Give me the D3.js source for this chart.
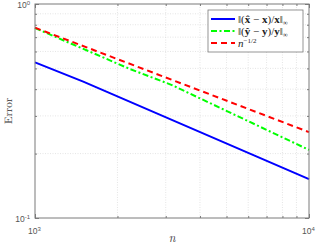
<!DOCTYPE html>
<html>
<head>
<meta charset="utf-8">
<script src="https://cdn.jsdelivr.net/npm/d3@7"></script>
<style>
  body { margin: 0; background: #fff; }
  svg { display: block; }
</style>
</head>
<body>
<div id="chart"></div>
<script>
/* Relative error vs n, log-log, MATLAB style */

const blueN   = [1000, 1500, 10000];
const blueErr = [0.534, 0.434, 0.152];
const greenN   = [1000, 2220, 3160, 10000];
const greenErr = [0.772, 0.497, 0.418, 0.208];
const redN   = [1000, 10000];
const redErr = [0.775, 0.252];

const xMajor = [1000, 10000];
const yMajor = [0.1, 1];
const xMinor = [2000, 3000, 4000, 5000, 6000, 7000, 8000, 9000];
const yMinor = [0.2, 0.3, 0.4, 0.5, 0.6, 0.7, 0.8, 0.9];

const width = 316, height = 246;
const margin = {top: 4, right: 7, bottom: 28, left: 35};

const svg = d3.select("#chart").append("svg")
    .attr("width", width).attr("height", height);

const x = d3.scaleLog()
    .domain([1000, 10000])
    .range([margin.left, width - margin.right]);
const y = d3.scaleLog()
    .domain([0.1, 1])
    .range([height - margin.bottom, margin.top]);

const axisCol = "#7a7a7a";
const textCol = "#555";

// grid
const grid = svg.append("g").attr("stroke", "#d4d4d4").attr("stroke-width", 0.6)
    .attr("stroke-dasharray", "1,1.5");
grid.selectAll(".gx").data(xMinor).join("line")
    .attr("x1", d => x(d)).attr("x2", d => x(d))
    .attr("y1", y(0.1)).attr("y2", y(1));
grid.selectAll(".gy").data(yMinor).join("line")
    .attr("y1", d => y(d)).attr("y2", d => y(d))
    .attr("x1", x(1000)).attr("x2", x(10000));

// series
const line = d3.line().x(d => x(d[0])).y(d => y(d[1]));
const series = [
    {n: blueN, e: blueErr, color: "#0000ff", dash: null},
    {n: greenN, e: greenErr, color: "#00ff00", dash: "6,2.5,2,2.5"},
    {n: redN, e: redErr, color: "#ff0000", dash: "6,4"}
];
svg.append("g").selectAll("path").data(series).join("path")
    .attr("d", s => line(d3.zip(s.n, s.e)))
    .attr("fill", "none")
    .attr("stroke", s => s.color)
    .attr("stroke-width", 2)
    .attr("stroke-dasharray", s => s.dash);

// axes box with inward ticks
const tickLen = 4, minorLen = 2;
svg.append("g")
    .attr("transform", `translate(0,${y(0.1)})`)
    .call(d3.axisBottom(x).tickValues(xMajor.concat(xMinor)).tickSizeInner(0).tickSizeOuter(0).tickFormat(""))
    .call(g => g.select(".domain").remove())
    .call(g => g.selectAll(".tick line")
        .attr("y2", d => xMajor.includes(d) ? -tickLen : -minorLen).attr("stroke", axisCol));
svg.append("g")
    .attr("transform", `translate(0,${y(1)})`)
    .call(d3.axisTop(x).tickValues(xMajor.concat(xMinor)).tickSizeInner(0).tickSizeOuter(0).tickFormat(""))
    .call(g => g.select(".domain").remove())
    .call(g => g.selectAll(".tick line")
        .attr("y2", d => xMajor.includes(d) ? tickLen : minorLen).attr("stroke", axisCol));
svg.append("g")
    .attr("transform", `translate(${x(1000)},0)`)
    .call(d3.axisLeft(y).tickValues(yMajor.concat(yMinor)).tickSizeInner(0).tickSizeOuter(0).tickFormat(""))
    .call(g => g.select(".domain").remove())
    .call(g => g.selectAll(".tick line")
        .attr("x2", d => yMajor.includes(d) ? tickLen : minorLen).attr("stroke", axisCol));
svg.append("g")
    .attr("transform", `translate(${x(10000)},0)`)
    .call(d3.axisRight(y).tickValues(yMajor.concat(yMinor)).tickSizeInner(0).tickSizeOuter(0).tickFormat(""))
    .call(g => g.select(".domain").remove())
    .call(g => g.selectAll(".tick line")
        .attr("x2", d => yMajor.includes(d) ? -tickLen : -minorLen).attr("stroke", axisCol));

svg.append("rect")
    .attr("x", x(1000)).attr("y", y(1))
    .attr("width", x(10000) - x(1000)).attr("height", y(0.1) - y(1))
    .attr("fill", "none").attr("stroke", axisCol).attr("stroke-width", 1);

// tick labels (10^k)
const pow = d => Math.round(Math.log10(d));
const tl = svg.append("g").attr("font-family", "Liberation Sans, Arial, sans-serif")
    .attr("font-size", 8.5).attr("fill", textCol);
xMajor.forEach(d => {
    const t = tl.append("text").attr("x", x(d) - 7).attr("y", y(0.1) + 16);
    t.append("tspan").text("10");
    t.append("tspan").attr("font-size", 6).attr("dy", -3.5).text(pow(d));
});
yMajor.forEach(d => {
    const t = tl.append("text").attr("x", x(1000) - 5).attr("y", y(d) + 4)
        .attr("text-anchor", "end");
    t.append("tspan").text("10");
    t.append("tspan").attr("font-size", 6).attr("dy", -3.5).text(pow(d));
});

// axis titles
const serif = "Latin Modern Roman, DejaVu Serif, Liberation Serif, serif";
svg.append("text")
    .attr("x", (x(1000) + x(10000)) / 2).attr("y", 242)
    .attr("text-anchor", "middle")
    .attr("font-family", serif).attr("font-style", "italic")
    .attr("font-size", 12).attr("fill", "#333")
    .text("n");
svg.append("text")
    .attr("transform", `translate(12,${(y(0.1) + y(1)) / 2}) rotate(-90)`)
    .attr("text-anchor", "middle")
    .attr("font-family", serif)
    .attr("font-size", 11).attr("fill", "#333")
    .text("Error");

// legend
const leg = svg.append("g").attr("transform", "translate(208,10)");
leg.append("rect").attr("width", 95).attr("height", 42)
    .attr("fill", "#fff").attr("stroke", axisCol).attr("stroke-width", 0.8);
const rows = leg.selectAll(".row").data(series).join("g")
    .attr("transform", (d, i) => `translate(0,${9 + i * 12})`);
rows.append("line").attr("x1", 3).attr("x2", 27)
    .attr("stroke", d => d.color).attr("stroke-width", 2)
    .attr("stroke-dasharray", d => d.dash);

const lab = rows.append("text").attr("x", 30).attr("y", 3.5)
    .attr("font-family", "Liberation Serif, Times New Roman, serif")
    .attr("font-size", 11).attr("fill", "#222");
function normLabel(t, v) {
    t.append("tspan").text("\u2016(");
    t.append("tspan").attr("font-weight", "bold").text(v + "\u0302");
    t.append("tspan").text(" \u2212 ");
    t.append("tspan").attr("font-weight", "bold").text(v);
    t.append("tspan").text(")/");
    t.append("tspan").attr("font-weight", "bold").text(v);
    t.append("tspan").text("\u2016");
    t.append("tspan").attr("font-size", 7).attr("dy", 2).text("\u221e");
}
lab.each(function(d, i) {
    const t = d3.select(this);
    if (i === 0) normLabel(t, "x");
    else if (i === 1) normLabel(t, "y");
    else {
        t.append("tspan").attr("font-style", "italic").text("n");
        t.append("tspan").attr("font-size", 7).attr("dy", -4).text("\u22121/2");
    }
});
</script>
</body>
</html>
